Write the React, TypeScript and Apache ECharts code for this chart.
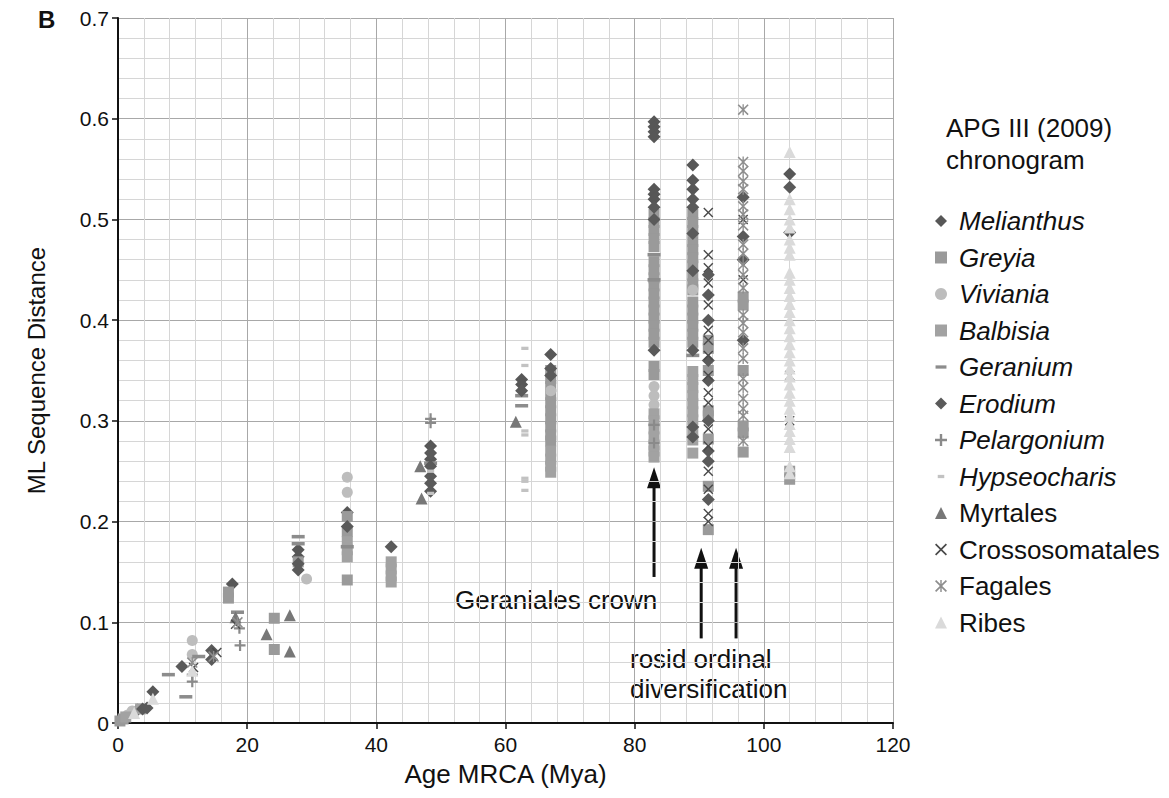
import React, { useEffect, useRef } from 'react';
import * as echarts from 'echarts';

const FONT = '"Liberation Sans", Arial, Helvetica, sans-serif';

const xTicks = [0, 20, 40, 60, 80, 100, 120];
const yTicks = [0, 0.1, 0.2, 0.3, 0.4, 0.5, 0.6, 0.7];

const seriesNames = [
  'Melianthus', 'Greyia', 'Viviania', 'Balbisia', 'Geranium', 'Erodium',
  'Pelargonium', 'Hypseocharis', 'Myrtales', 'Crossosomatales', 'Fagales', 'Ribes',
];
const italicNames = ['Melianthus', 'Greyia', 'Viviania', 'Balbisia', 'Geranium', 'Erodium', 'Pelargonium', 'Hypseocharis'];

const melianthus = [
  [3.0, 0.013], [5.4, 0.031], [17.7, 0.138], [27.9, 0.172], [27.9, 0.165], [35.5, 0.209],
  [48.4, 0.275], [48.4, 0.262], [62.5, 0.341], [62.5, 0.336], [67, 0.366],
  [83, 0.597], [83, 0.592], [83, 0.587], [83, 0.582], [83, 0.53], [83, 0.525], [83, 0.52],
  [89, 0.554], [89, 0.539], [89, 0.53], [104, 0.545], [104, 0.487],
];
const greyia = [
  [0.3, 0.002], [0.8, 0.004], [17.1, 0.13], [17.1, 0.124], [24.2, 0.104], [24.2, 0.073],
  [27.9, 0.16], [35.5, 0.205], [35.5, 0.19], [35.5, 0.142],
  [67, 0.35], [67, 0.342], [67, 0.334], [67, 0.326], [67, 0.318], [67, 0.31], [67, 0.302], [67, 0.294], [67, 0.286], [67, 0.28],
  [83, 0.505], [83, 0.497], [83, 0.489], [83, 0.481], [83, 0.473], [83, 0.458], [83, 0.45], [83, 0.442], [83, 0.434],
  [83, 0.426], [83, 0.418], [83, 0.41], [83, 0.402], [83, 0.394], [83, 0.386], [83, 0.378], [83, 0.354], [83, 0.346],
  [89, 0.505], [89, 0.497], [89, 0.489], [89, 0.478], [89, 0.47], [89, 0.462], [89, 0.454], [89, 0.444], [89, 0.436],
  [89, 0.43], [89, 0.418], [89, 0.41], [89, 0.402], [89, 0.394], [89, 0.386], [89, 0.378],
  [91.4, 0.38], [91.4, 0.372], [91.4, 0.35], [91.4, 0.31], [91.4, 0.305], [91.4, 0.282], [91.4, 0.235], [91.4, 0.192],
  [96.8, 0.423], [96.8, 0.415], [96.8, 0.35], [96.8, 0.295], [96.8, 0.288], [96.8, 0.269],
  [104, 0.25], [104, 0.242],
];
const viviania = [
  [1.5, 0.008], [2.2, 0.012], [11.5, 0.082], [11.5, 0.068], [29.2, 0.143], [35.5, 0.244], [35.5, 0.229],
  [67, 0.33], [83, 0.334], [83, 0.325], [83, 0.316], [89, 0.43],
];
const balbisia = [
  [1.2, 0.006], [3.5, 0.014], [35.5, 0.18], [35.5, 0.172], [35.5, 0.165],
  [42.3, 0.16], [42.3, 0.153], [42.3, 0.146], [42.3, 0.14],
  [67, 0.27], [67, 0.262], [67, 0.255], [67, 0.249],
  [83, 0.307], [83, 0.3], [83, 0.292], [83, 0.284], [83, 0.276], [83, 0.27], [83, 0.264],
  [89, 0.349], [89, 0.341], [89, 0.333], [89, 0.325], [89, 0.317], [89, 0.309], [89, 0.301], [89, 0.289], [89, 0.281], [89, 0.268],
];
const geranium = [
  [7.8, 0.048], [10.5, 0.026], [12.5, 0.066], [18.5, 0.11], [27.9, 0.185], [27.9, 0.178], [35.5, 0.175],
  [48.4, 0.258], [62.5, 0.325], [62.5, 0.315], [83, 0.465], [83, 0.44], [89, 0.365],
];
const erodium = [
  [3.8, 0.014], [4.5, 0.015], [9.9, 0.056], [14.5, 0.072], [14.5, 0.063], [27.9, 0.158], [27.9, 0.152],
  [35.5, 0.195], [42.3, 0.175], [48.4, 0.268], [48.4, 0.255], [48.4, 0.245], [48.4, 0.238], [48.4, 0.23],
  [62.5, 0.33], [67, 0.352], [67, 0.345], [83, 0.512], [83, 0.5], [83, 0.37],
  [89, 0.52], [89, 0.512], [89, 0.486], [89, 0.449], [89, 0.37], [89, 0.294], [89, 0.284],
  [91.4, 0.445], [91.4, 0.425], [91.4, 0.4], [91.4, 0.36], [91.4, 0.34], [91.4, 0.3], [91.4, 0.27], [91.4, 0.26], [91.4, 0.222],
  [96.8, 0.522], [96.8, 0.483], [96.8, 0.46], [96.8, 0.38], [104, 0.532],
];
const pelargonium = [
  [11.5, 0.048], [11.5, 0.041], [18.8, 0.094], [18.9, 0.077], [48.4, 0.302], [48.4, 0.298], [83, 0.296], [83, 0.278],
];
const hypseocharis = [
  [48.4, 0.25], [48.4, 0.228], [63, 0.372], [63, 0.355], [63, 0.29], [63, 0.286], [63, 0.243], [63, 0.24], [63, 0.231],
];
const myrtales = [
  [18.2, 0.105], [23, 0.088], [26.6, 0.107], [26.6, 0.071], [46.8, 0.255], [47, 0.223], [61.6, 0.299],
];
const crossosomatales = [
  [11.7, 0.055], [15.3, 0.07], [18.2, 0.098],
  [91.4, 0.507], [91.4, 0.465], [91.4, 0.452], [91.4, 0.437], [91.4, 0.415], [91.4, 0.39], [91.4, 0.38], [91.4, 0.365],
  [91.4, 0.345], [91.4, 0.328], [91.4, 0.318], [91.4, 0.292], [91.4, 0.275], [91.4, 0.25], [91.4, 0.232], [91.4, 0.208], [91.4, 0.2],
  [96.8, 0.5], [96.8, 0.44], [104, 0.345], [104, 0.3],
];
const fagales = [
  [11.5, 0.06], [14.8, 0.066], [18.5, 0.1],
  [96.8, 0.609], [96.8, 0.557], [96.8, 0.548], [96.8, 0.538], [96.8, 0.53], [96.8, 0.513], [96.8, 0.505], [96.8, 0.494],
  [96.8, 0.475], [96.8, 0.466], [96.8, 0.455], [96.8, 0.445], [96.8, 0.432], [96.8, 0.405], [96.8, 0.397], [96.8, 0.388],
  [96.8, 0.372], [96.8, 0.362], [96.8, 0.342], [96.8, 0.333], [96.8, 0.322], [96.8, 0.312], [96.8, 0.305], [96.8, 0.28],
];
const ribes = [
  [2.5, 0.01], [5.4, 0.024], [11.5, 0.052],
  [104, 0.567], [104, 0.52], [104, 0.51], [104, 0.5], [104, 0.492], [104, 0.48], [104, 0.472], [104, 0.465],
  [104, 0.447], [104, 0.44], [104, 0.432], [104, 0.424], [104, 0.416], [104, 0.408], [104, 0.4], [104, 0.392],
  [104, 0.384], [104, 0.376], [104, 0.368], [104, 0.36], [104, 0.352], [104, 0.344], [104, 0.336], [104, 0.328],
  [104, 0.32], [104, 0.312], [104, 0.305], [104, 0.297], [104, 0.29], [104, 0.282], [104, 0.274], [104, 0.255], [104, 0.248],
];

// arrows: [x, yBottom, yTip]
const arrows = [
  [83, 0.145, 0.254],
  [90.3, 0.084, 0.174],
  [95.7, 0.084, 0.174],
];

const SYM_DASH = 'path://M0,0M0,4h10v3h-10zM10,11';
const SYM_SHORTDASH = 'path://M0,0M2,4h6v3h-6zM10,11';
const SYM_PLUS = 'path://M4,0h2v4h4v2h-4v4h-2v-4h-4v-2h4z';
const SYM_X = 'path://M0,1L1,0L5,4L9,0L10,1L6,5L10,9L9,10L5,6L1,10L0,9L4,5Z';
const SYM_STAR = 'path://M0,1L1,0L5,4L9,0L10,1L6,5L10,9L9,10L5,6L1,10L0,9L4,5ZM4.4,0h1.2v10h-1.2z';

const seriesDefs: [string, number[][], string, number, string][] = [
  ['Melianthus', melianthus, 'diamond', 13, '#575757'],
  ['Greyia', greyia, 'rect', 11, '#9a9a9a'],
  ['Viviania', viviania, 'circle', 11, '#bdbdbd'],
  ['Balbisia', balbisia, 'rect', 11, '#a2a2a2'],
  ['Geranium', geranium, SYM_DASH, 13, '#8c8c8c'],
  ['Erodium', erodium, 'diamond', 13, '#5a5a5a'],
  ['Pelargonium', pelargonium, SYM_PLUS, 11, '#8a8a8a'],
  ['Hypseocharis', hypseocharis, SYM_SHORTDASH, 12, '#c2c2c2'],
  ['Myrtales', myrtales, 'triangle', 12, '#777777'],
  ['Crossosomatales', crossosomatales, SYM_X, 10, '#4a4a4a'],
  ['Fagales', fagales, SYM_STAR, 11, '#8e8e8e'],
  ['Ribes', ribes, 'triangle', 12, '#dadada'],
];

const textGraphics = [
  { type: 'text', left: 38, top: 7, style: { text: 'B', font: `bold 24px ${FONT}`, fill: '#111' } },
  { type: 'text', left: 946, top: 115, style: { text: 'APG III (2009)', font: `26px ${FONT}`, fill: '#111' } },
  { type: 'text', left: 946, top: 147, style: { text: 'chronogram', font: `26px ${FONT}`, fill: '#111' } },
  { type: 'text', left: 455, top: 587, style: { text: 'Geraniales crown', font: `26px ${FONT}`, fill: '#111' } },
  { type: 'text', left: 630, top: 646, style: { text: 'rosid ordinal', font: `26px ${FONT}`, fill: '#111' } },
  { type: 'text', left: 630, top: 676, style: { text: 'diversification', font: `26px ${FONT}`, fill: '#111' } },
];

export default function App() {
  const ref = useRef<HTMLDivElement>(null);
  useEffect(() => {
    const chart = echarts.init(ref.current!, undefined, { renderer: 'svg' });
    const series: any[] = seriesDefs.map(([name, data, symbol, size, color]) => ({
      name,
      type: 'scatter',
      data,
      symbol,
      symbolSize: size,
      itemStyle: { color, opacity: 1 },
      emphasis: { disabled: true },
      silent: true,
    }));
    chart.setOption({
      animation: false,
      backgroundColor: '#fff',
      textStyle: { fontFamily: FONT },
      grid: { left: 118, top: 18, width: 775, height: 705 },
      xAxis: {
        type: 'value',
        min: xTicks[0],
        max: xTicks[xTicks.length - 1],
        interval: 20,
        name: 'Age MRCA (Mya)',
        nameLocation: 'middle',
        nameGap: 38,
        nameTextStyle: { fontSize: 26, color: '#111', fontFamily: FONT },
        axisLine: { show: true, onZero: false, lineStyle: { color: '#111', width: 2 } },
        axisTick: { show: true, length: 6, lineStyle: { color: '#111', width: 1.5 } },
        axisLabel: { fontSize: 21, color: '#111', margin: 11, fontFamily: FONT },
        splitLine: { show: true, lineStyle: { color: '#a8a8a8', width: 1 } },
        minorTick: { show: false, splitNumber: 5 },
        minorSplitLine: { show: true, lineStyle: { color: '#d6d6d6', width: 1 } },
      },
      yAxis: {
        type: 'value',
        min: yTicks[0],
        max: yTicks[yTicks.length - 1],
        interval: 0.1,
        name: 'ML Sequence Distance',
        nameLocation: 'middle',
        nameGap: 70,
        nameRotate: 90,
        nameTextStyle: { fontSize: 24, color: '#111', fontFamily: FONT },
        axisLine: { show: true, onZero: false, lineStyle: { color: '#111', width: 2 } },
        axisTick: { show: true, length: 6, lineStyle: { color: '#111', width: 1.5 } },
        axisLabel: {
          fontSize: 21,
          color: '#111',
          margin: 9,
          fontFamily: FONT,
          formatter: (v: number) => (v === 0 ? '0' : v.toFixed(1)),
        },
        splitLine: { show: true, lineStyle: { color: '#a8a8a8', width: 1 } },
        minorTick: { show: false, splitNumber: 5 },
        minorSplitLine: { show: true, lineStyle: { color: '#d6d6d6', width: 1 } },
      },
      legend: {
        orient: 'vertical',
        left: 930,
        top: 203,
        itemWidth: 12,
        itemHeight: 12,
        itemGap: 10.5,
        selectedMode: false,
        data: seriesNames,
        formatter: (name: string) => (italicNames.includes(name) ? `{i|${name}}` : `{n|${name}}`),
        textStyle: {
          fontFamily: FONT,
          fontSize: 26,
          color: '#111',
          rich: {
            i: { fontStyle: 'italic', fontSize: 26, lineHeight: 28, fontFamily: FONT, color: '#111', padding: [0, 0, 0, 7] },
            n: { fontSize: 26, lineHeight: 28, fontFamily: FONT, color: '#111', padding: [0, 0, 0, 7] },
          },
        },
      },
      graphic: textGraphics,
      series,
    });

    const arrowGraphics: any[] = [];
    arrows.forEach(([x, y0, y1]) => {
      const p0 = chart.convertToPixel({ gridIndex: 0 }, [x, y0]) as number[];
      const p1 = chart.convertToPixel({ gridIndex: 0 }, [x, y1]) as number[];
      arrowGraphics.push({
        type: 'line',
        silent: true,
        shape: { x1: p0[0], y1: p0[1], x2: p1[0], y2: p1[1] + 12 },
        style: { stroke: '#111', lineWidth: 3 },
      });
      arrowGraphics.push({
        type: 'polygon',
        silent: true,
        shape: { points: [[p1[0], p1[1]], [p1[0] + 7, p1[1] + 21], [p1[0] - 7, p1[1] + 21]] },
        style: { fill: '#111' },
      });
    });
    chart.setOption({ graphic: [...textGraphics, ...arrowGraphics] });

    return () => chart.dispose();
  }, []);
  return (
    <div
      ref={ref}
      style={{ position: 'fixed', left: 0, top: 0, width: 1169, height: 798, background: '#fff' }}
    />
  );
}
